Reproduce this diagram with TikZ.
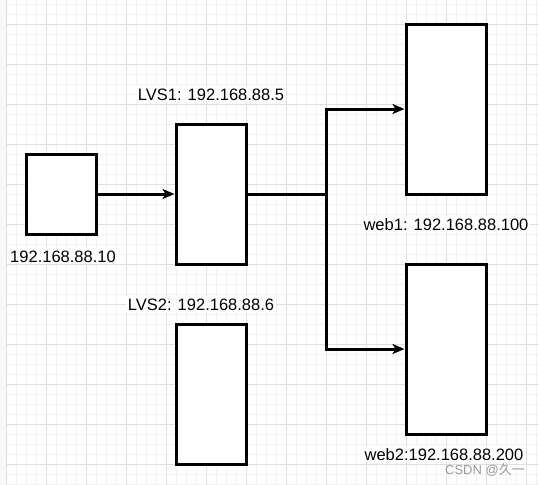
\documentclass[tikz,border=0pt]{standalone}
\usepackage{fontspec}
\setmainfont{Liberation Sans}
\newfontfamily\cjkfont{Noto Sans CJK SC}
\definecolor{gridmajor}{HTML}{DEDEDE}
\definecolor{gridminor}{HTML}{F2F2F2}
\definecolor{sidebar}{HTML}{F8F8F8}
\definecolor{markgray}{HTML}{9A9A9A}
\usetikzlibrary{arrows.meta}

\begin{document}
\begin{tikzpicture}[x=1pt,y=-1pt,
  box/.style={draw=black,line width=3pt,fill=white,inner sep=0pt},
  lbl/.style={font=\fontsize{16.5}{19}\selectfont,fill=white,inner sep=2pt,anchor=base},
  arr/.style={-{Stealth[length=12pt,width=10pt,inset=3pt]},line width=3pt},
  link/.style={line width=3pt}]
  % canvas and grid
  \useasboundingbox (0,0) rectangle (539,485);
  \fill[white] (0,0) rectangle (539,485);
  \fill[sidebar] (0,0) rectangle (6.7,485);
  \foreach \gx in {16.7,26.7,...,536.7} \draw[gridminor,line width=0.8pt] (\gx,0) -- (\gx,485);
  \foreach \gy in {4.3,14.3,...,484.3} \draw[gridminor,line width=0.8pt] (6.7,\gy) -- (539,\gy);
  \foreach \gx in {6.7,46.7,...,526.7} \draw[gridmajor,line width=0.8pt] (\gx,0) -- (\gx,485);
  \foreach \gy in {24.3,64.3,...,464.3} \draw[gridmajor,line width=0.8pt] (6.7,\gy) -- (539,\gy);
  % boxes
  \node[box,minimum width=70pt,minimum height=80pt] (client) at (61.5,194) {};
  \node[box,minimum width=70pt,minimum height=140pt] (lvsa) at (211,194) {};
  \node[box,minimum width=70pt,minimum height=140pt] (lvsb) at (211,394) {};
  \node[box,minimum width=80pt,minimum height=170pt] (weba) at (446,109) {};
  \node[box,minimum width=80pt,minimum height=170pt] (webb) at (446,349) {};
  % labels
  \node[lbl] (lvsalbl) at (211,100) {LVS1: 192.168.88.5};
  \node[lbl] (clientlbl) at (63,262) {192.168.88.10};
  \node[lbl] (lvsblbl) at (201,310) {LVS2: 192.168.88.6};
  \node[lbl] (webalbl) at (446,230) {web1: 192.168.88.100};
  \node[lbl] (webblbl) at (444,460) {web2:192.168.88.200};
  \node[font=\fontsize{13}{15}\selectfont,text=markgray,anchor=base,inner sep=0pt] (mark) at (485,474) {CSDN @\cjkfont 久一};
  % connectors
  \coordinate (split) at (326,194);
  \draw[arr] (client) -- (lvsa);
  \draw[link] (lvsa) -- (split);
  \draw[arr] (split) |- (weba);
  \draw[arr] (split) |- (webb);
\end{tikzpicture}
\end{document}
